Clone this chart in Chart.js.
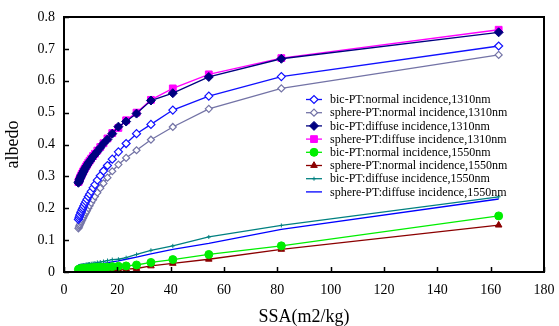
<!DOCTYPE html>
<html>
<head>
<meta charset="utf-8">
<script src="https://cdn.jsdelivr.net/npm/chart.js@4/dist/chart.umd.min.js"></script>
<style>
  html, body { margin: 0; padding: 0; background: #fff; }
  #wrap { width: 559px; height: 326px; }
</style>
</head>
<body>
<div id="wrap"><canvas id="chart-canvas" width="559" height="326"></canvas></div>
<script>
// SSA values (m2/kg), shared by every series
const ssa = [5.4, 5.6, 5.8, 6.0, 6.3, 6.5, 6.8, 7.1, 7.4, 7.8, 8.2, 8.6, 9.1, 9.6, 10.2,
  10.9, 11.6, 12.5, 13.6, 14.8, 16.3, 18.1, 20.4, 23.3, 27.2, 32.6, 40.8, 54.3, 81.5, 163.0]

const bicNormal1310 = [0.165, 0.170, 0.175, 0.180, 0.186, 0.190, 0.196, 0.201, 0.207, 0.214, 0.221, 0.228, 0.236, 0.244, 0.253,
  0.264, 0.274, 0.288, 0.302, 0.317, 0.334, 0.354, 0.377, 0.403, 0.434, 0.463, 0.508, 0.552, 0.613, 0.709]
const sphereNormal1310 = [0.137, 0.141, 0.145, 0.149, 0.154, 0.158, 0.163, 0.168, 0.173, 0.180, 0.186, 0.192, 0.200, 0.208, 0.217,
  0.227, 0.237, 0.249, 0.263, 0.278, 0.296, 0.316, 0.337, 0.358, 0.382, 0.415, 0.455, 0.512, 0.576, 0.681]
const bicDiffuse1310 = [0.280, 0.284, 0.289, 0.293, 0.298, 0.302, 0.307, 0.312, 0.317, 0.323, 0.329, 0.334, 0.341, 0.347, 0.354,
  0.362, 0.369, 0.378, 0.390, 0.403, 0.416, 0.434, 0.456, 0.472, 0.497, 0.538, 0.561, 0.612, 0.669, 0.752]
const sphereDiffuse1310 = [0.282, 0.286, 0.290, 0.295, 0.300, 0.304, 0.309, 0.314, 0.319, 0.325, 0.331, 0.336, 0.343, 0.349, 0.356,
  0.364, 0.371, 0.381, 0.392, 0.404, 0.419, 0.436, 0.452, 0.476, 0.500, 0.540, 0.576, 0.620, 0.671, 0.760]
const bicNormal1550 = [0.008, 0.008, 0.009, 0.009, 0.009, 0.010, 0.010, 0.010, 0.011, 0.011, 0.011, 0.012, 0.012, 0.012, 0.013,
  0.013, 0.014, 0.014, 0.015, 0.015, 0.016, 0.017, 0.018, 0.019, 0.022, 0.030, 0.039, 0.055, 0.082, 0.176]
const sphereNormal1550 = [0.002, 0.002, 0.002, 0.003, 0.003, 0.003, 0.003, 0.003, 0.004, 0.004, 0.004, 0.004, 0.005, 0.005, 0.005,
  0.005, 0.006, 0.006, 0.006, 0.007, 0.007, 0.008, 0.008, 0.009, 0.011, 0.019, 0.027, 0.040, 0.071, 0.147]
const bicDiffuse1550 = [0.018, 0.018, 0.019, 0.019, 0.020, 0.020, 0.021, 0.021, 0.022, 0.022, 0.023, 0.024, 0.025, 0.025, 0.026,
  0.027, 0.028, 0.030, 0.031, 0.033, 0.036, 0.039, 0.040, 0.045, 0.055, 0.068, 0.082, 0.110, 0.146, 0.236]
const sphereDiffuse1550 = [0.013, 0.013, 0.014, 0.014, 0.014, 0.015, 0.015, 0.016, 0.016, 0.017, 0.017, 0.018, 0.018, 0.019, 0.020,
  0.021, 0.022, 0.023, 0.025, 0.027, 0.029, 0.032, 0.035, 0.040, 0.047, 0.057, 0.071, 0.090, 0.134, 0.229]

const seriesLabels = [
  'bic-PT:normal incidence,1310nm',
  'sphere-PT:normal incidence,1310nm',
  'bic-PT:diffuse incidence,1310nm',
  'sphere-PT:diffuse incidence,1310nm',
  'bic-PT:normal incidence,1550nm',
  'sphere-PT:normal incidence,1550nm',
  'bic-PT:diffuse incidence,1550nm',
  'sphere-PT:diffuse incidence,1550nm'
]

const serif = "'Liberation Serif', 'Times New Roman', serif"

function toPoints (values) {
  return values.map((v, i) => ({ x: ssa[i], y: v }))
}

function series (label, values, color, style) {
  return Object.assign({
    label: label,
    data: toPoints(values),
    borderColor: color,
    backgroundColor: color,
    pointBorderColor: color,
    pointBackgroundColor: color,
    borderWidth: 1.3,
    pointBorderWidth: 1,
    pointRadius: 4,
    tension: 0
  }, style)
}

const datasets = [
  series(seriesLabels[0], bicNormal1310, '#1010ff', { pointStyle: 'rectRot', pointBackgroundColor: '#ffffff', pointRadius: 4, pointBorderWidth: 1.2 }),
  series(seriesLabels[1], sphereNormal1310, '#7373a6', { pointStyle: 'rectRot', pointBackgroundColor: '#ffffff', pointRadius: 3.5, pointBorderWidth: 1.2 }),
  series(seriesLabels[2], bicDiffuse1310, '#000080', { pointStyle: 'rectRot', pointRadius: 4.5 }),
  series(seriesLabels[3], sphereDiffuse1310, '#ff00ff', { pointStyle: 'rect', pointRadius: 4.8 }),
  series(seriesLabels[4], bicNormal1550, '#00ee00', { pointStyle: 'circle', pointRadius: 4 }),
  series(seriesLabels[5], sphereNormal1550, '#8b0000', { pointStyle: 'triangle', pointRadius: 3.8 }),
  series(seriesLabels[6], bicDiffuse1550, '#008080', { pointStyle: 'cross', pointRadius: 2 }),
  series(seriesLabels[7], sphereDiffuse1550, '#0000ff', { pointRadius: 0 })
]

// frame with inward tick marks
const framePlugin = {
  id: 'frame',
  afterDraw (chart) {
    const { ctx, chartArea: a, scales } = chart
    ctx.save()
    ctx.strokeStyle = '#000'
    ctx.lineWidth = 1.5
    scales.x.ticks.forEach(t => {
      const px = Math.round(scales.x.getPixelForValue(t.value)) + 0.5
      ctx.beginPath()
      ctx.moveTo(px, a.bottom)
      ctx.lineTo(px, a.bottom - 5)
      ctx.stroke()
    })
    scales.y.ticks.forEach(t => {
      const py = Math.round(scales.y.getPixelForValue(t.value)) + 0.5
      ctx.beginPath()
      ctx.moveTo(a.left, py)
      ctx.lineTo(a.left + 5, py)
      ctx.stroke()
    })
    ctx.lineWidth = 2
    ctx.strokeRect(a.left, a.top, a.right - a.left, a.bottom - a.top)
    ctx.restore()
  }
}

// legend inside the plot, drawn from the dataset styles
const legendPlugin = {
  id: 'insideLegend',
  afterDraw (chart) {
    const { ctx } = chart
    const x0 = 306
    const y0 = 99.5
    const rowH = 13.2
    ctx.save()
    ctx.font = '12px ' + serif
    ctx.textBaseline = 'middle'
    ctx.textAlign = 'left'
    chart.data.datasets.forEach((ds, i) => {
      const y = y0 + i * rowH
      ctx.strokeStyle = ds.borderColor
      ctx.lineWidth = ds.borderWidth
      ctx.beginPath()
      ctx.moveTo(x0, y)
      ctx.lineTo(x0 + 16, y)
      ctx.stroke()
      if (ds.pointRadius > 0) {
        ctx.fillStyle = ds.pointBackgroundColor
        ctx.strokeStyle = ds.pointBorderColor
        ctx.lineWidth = ds.pointBorderWidth
        Chart.helpers.drawPoint(ctx, {
          pointStyle: ds.pointStyle,
          radius: ds.pointRadius,
          rotation: 0,
          borderWidth: ds.pointBorderWidth
        }, x0 + 8, y)
      }
      ctx.fillStyle = '#000'
      ctx.fillText(ds.label, x0 + 24, y + 0.5)
    })
    ctx.restore()
  }
}

const ctx = document.getElementById('chart-canvas')
new Chart(ctx, {
  type: 'line',
  data: { datasets: datasets },
  options: {
    responsive: false,
    devicePixelRatio: 1,
    animation: false,
    layout: { padding: { top: 17, right: 15, left: 0, bottom: 0 } },
    plugins: {
      legend: { display: false },
      tooltip: { enabled: false }
    },
    scales: {
      x: {
        type: 'linear',
        min: 0,
        max: 180,
        afterFit: s => {
          s.height = 54
          s.paddingLeft = 0
          s.paddingRight = 0
        },
        grid: { display: false, drawTicks: false },
        border: { display: false },
        ticks: { stepSize: 20, maxRotation: 0, color: '#000', padding: 10, font: { family: serif, size: 14 } },
        title: { display: true, text: 'SSA(m2/kg)', color: '#000', padding: { top: 0, bottom: -2 }, font: { family: serif, size: 18 } }
      },
      y: {
        min: 0,
        max: 0.8,
        afterFit: s => {
          s.width = 64
          s.paddingTop = 0
          s.paddingBottom = 0
        },
        grid: { display: false, drawTicks: false },
        border: { display: false },
        ticks: { stepSize: 0.1, color: '#000', padding: 9, font: { family: serif, size: 14 } },
        title: { display: true, text: 'albedo', color: '#000', padding: { top: 2, bottom: 0 }, font: { family: serif, size: 18 } }
      }
    }
  },
  plugins: [framePlugin, legendPlugin]
})
</script>
</body>
</html>
